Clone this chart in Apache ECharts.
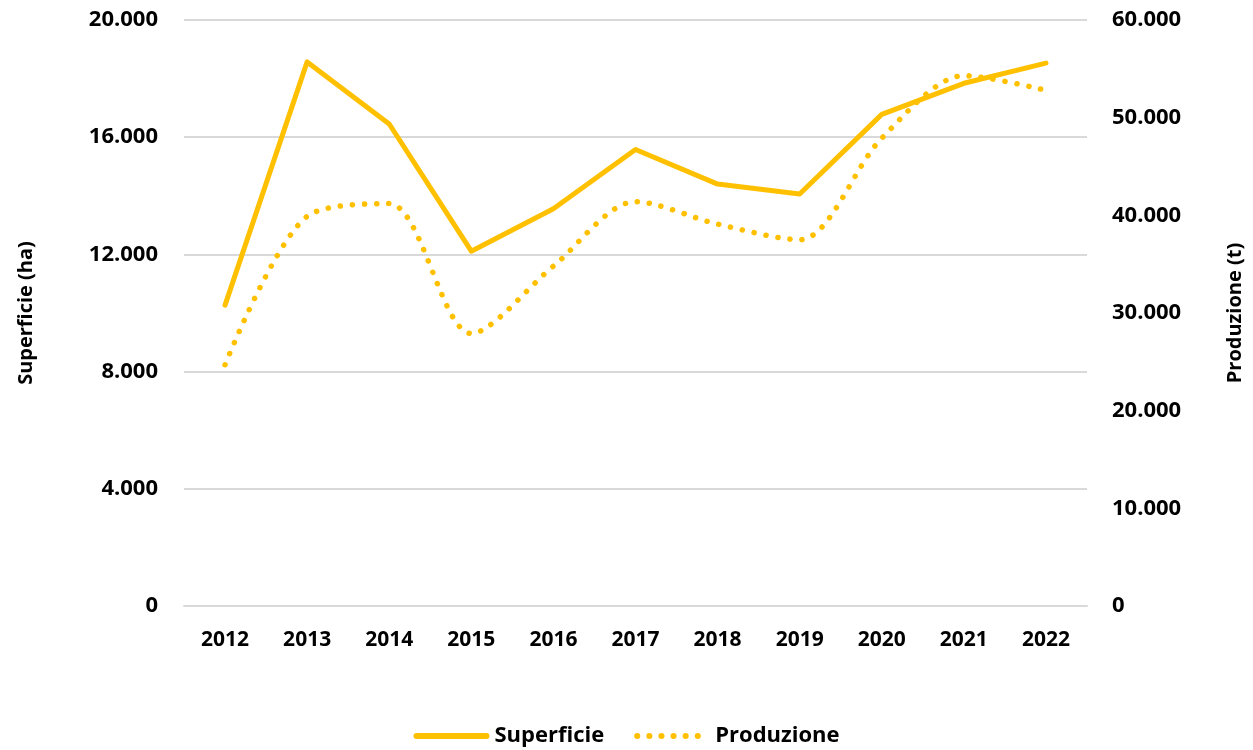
<!DOCTYPE html>
<html>
<head>
<meta charset="utf-8">
<script src="https://cdn.jsdelivr.net/npm/echarts@6/dist/echarts.min.js"></script>
<style>
  html, body { margin: 0; padding: 0; background: #fff; }
  #chart { width: 1253px; height: 750px; }
</style>
</head>
<body>
<div id="chart"></div>
<script>
const years = ['2012', '2013', '2014', '2015', '2016', '2017', '2018', '2019', '2020', '2021', '2022']
const superficie = [10270, 18570, 16450, 12110, 13560, 15580, 14400, 14060, 16780, 17840, 18530]
const produzione = [24700, 39900, 41200, 27900, 34800, 41400, 39100, 37500, 47900, 54300, 52800]

const FONT = 'Open Sans'
const YELLOW = '#FFC000'

// 20000 -> 20.000
function fmt(v) {
  return String(v).replace(/\B(?=(\d{3})+(?!\d))/g, '.')
}

const chart = echarts.init(document.getElementById('chart'))
chart.setOption({
  animation: false,
  textStyle: { fontFamily: FONT },
  grid: { left: 184, right: 165, top: 20, bottom: 144 },
  legend: {
    bottom: -2,
    left: 'center',
    itemWidth: 70,
    itemHeight: 14,
    itemGap: 30,
    itemStyle: { opacity: 0 },
    lineStyle: { width: 6 },
    textStyle: { fontFamily: FONT, fontWeight: 'bold', fontSize: 22, color: '#000', padding: [0, 0, 0, 3] },
    data: ['Superficie', 'Produzione']
  },
  xAxis: {
    type: 'category',
    data: years,
    boundaryGap: true,
    axisLine: { lineStyle: { color: '#d9d9d9', width: 2 } },
    axisTick: { show: false },
    axisLabel: { margin: 24, fontFamily: FONT, fontWeight: 'bold', fontSize: 21, color: '#000' }
  },
  yAxis: [
    {
      type: 'value',
      min: 0,
      max: 20000,
      interval: 4000,
      name: 'Superficie (ha)',
      nameLocation: 'middle',
      nameGap: 148,
      nameTextStyle: { fontFamily: FONT, fontWeight: 'bold', fontSize: 20, color: '#000' },
      axisLine: { show: false },
      axisTick: { show: false },
      splitLine: { lineStyle: { color: '#d9d9d9', width: 2 } },
      axisLabel: { margin: 26, fontFamily: FONT, fontWeight: 'bold', fontSize: 22, color: '#000', formatter: fmt }
    },
    {
      type: 'value',
      min: 0,
      max: 60000,
      interval: 10000,
      name: 'Produzione (t)',
      nameLocation: 'middle',
      nameGap: 138,
      nameTextStyle: { fontFamily: FONT, fontWeight: 'bold', fontSize: 20, color: '#000' },
      axisLine: { show: false },
      axisTick: { show: false },
      splitLine: { show: false },
      axisLabel: { margin: 25, fontFamily: FONT, fontWeight: 'bold', fontSize: 22, color: '#000', formatter: fmt }
    }
  ],
  series: [
    {
      name: 'Superficie',
      type: 'line',
      yAxisIndex: 0,
      data: superficie,
      symbol: 'none',
      itemStyle: { color: YELLOW },
      lineStyle: { color: YELLOW, width: 5, cap: 'round', join: 'round' }
    },
    {
      name: 'Produzione',
      type: 'line',
      yAxisIndex: 1,
      data: produzione,
      smooth: 0.3,
      symbol: 'none',
      itemStyle: { color: YELLOW },
      lineStyle: { color: YELLOW, width: 5.5, type: [0.1, 12], cap: 'round' }
    }
  ]
})
</script>
</body>
</html>
